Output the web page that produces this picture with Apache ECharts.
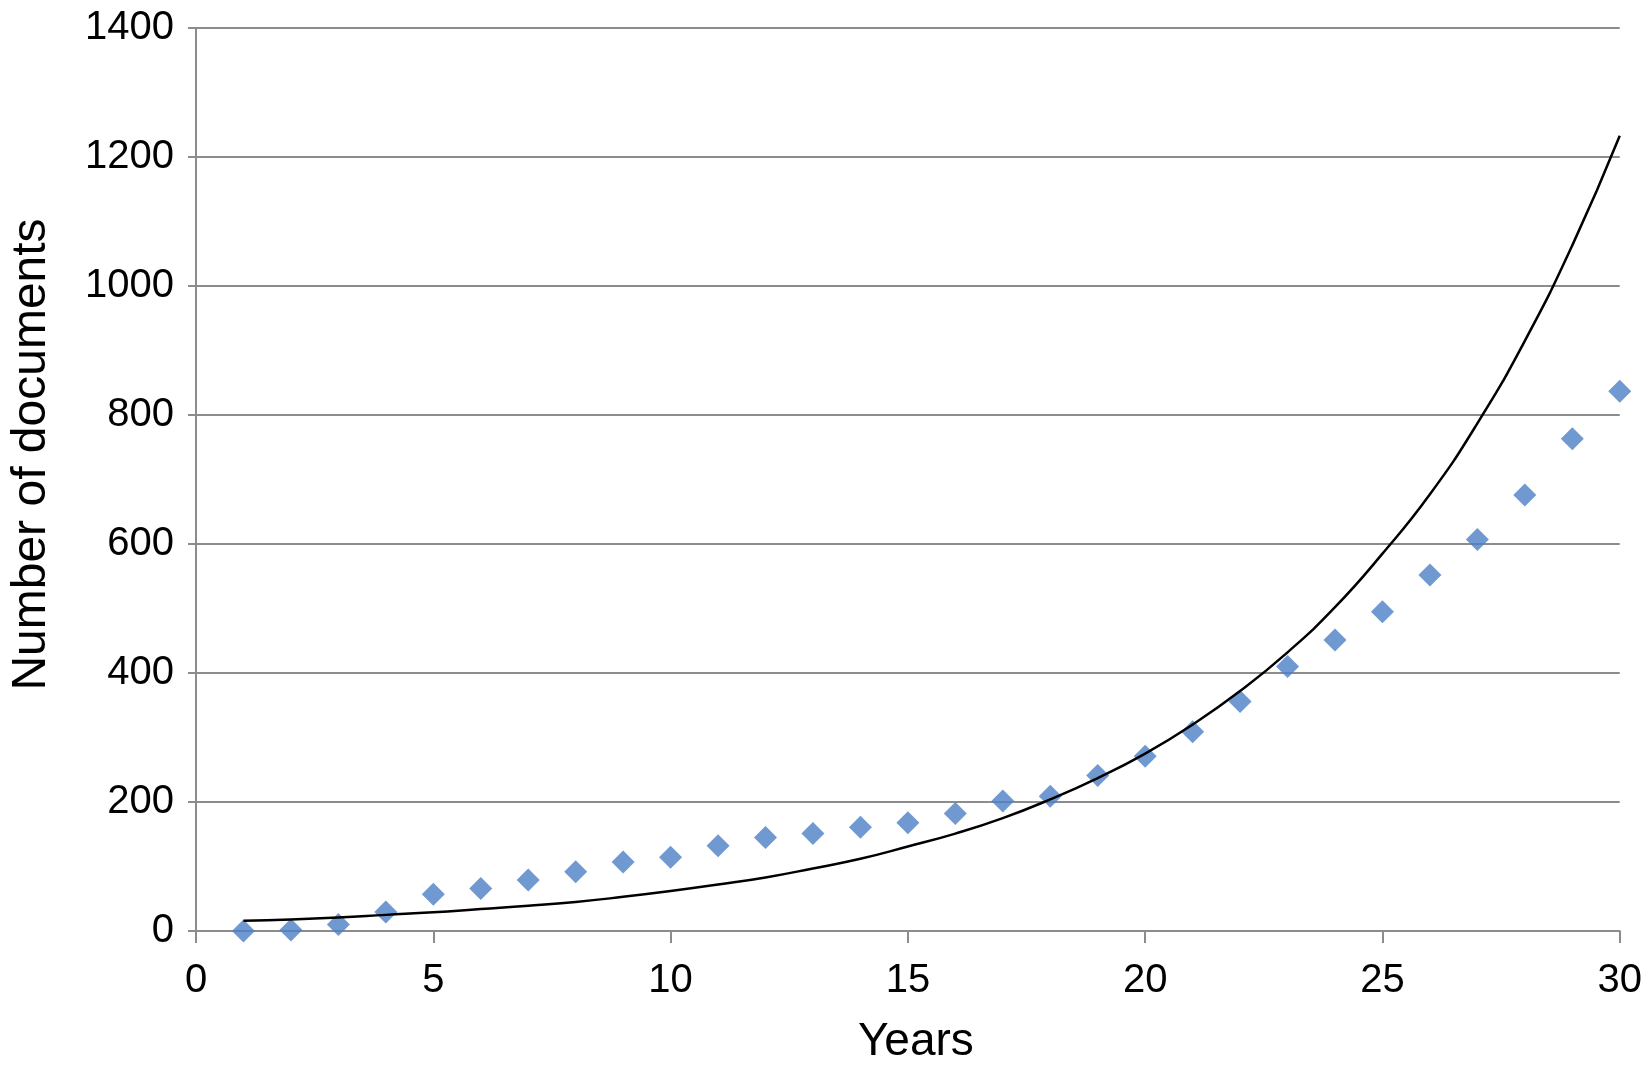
<!DOCTYPE html>
<html>
<head>
<meta charset="utf-8">
<script src="https://cdn.jsdelivr.net/npm/echarts@6/dist/echarts.min.js"></script>
<style>
html,body{margin:0;padding:0;background:#fff;}
#chart{width:1645px;height:1074px;}
</style>
</head>
<body>
<div id="chart"></div>
<script>
var years = [1,2,3,4,5,6,7,8,9,10,11,12,13,14,15,16,17,18,19,20,21,22,23,24,25,26,27,28,29,30];
var documents = [0,1.5,10,29.5,57,66,79,92,107,114.5,132,145,151,161,168,182,201.5,209,241,271,309,356,410,451,495,552,607,676,763,837];
var trend = [16,18,21,25,29,34,39,45,53,62,72,83,97,112,131,151,175,204,237,275,320,372,432,502,585,677,787,915,1063,1233];
var xTicks = [0,5,10,15,20,25,30];
var yTicks = [0,200,400,600,800,1000,1200,1400];

var chart = echarts.init(document.getElementById('chart'));
var font = 'Liberation Sans, Arial, Helvetica, sans-serif';
chart.setOption({
  animation: false,
  backgroundColor: '#ffffff',
  grid: {left: 184, right: 17, top: 28, bottom: 143},
  xAxis: {
    type: 'value',
    min: xTicks[0], max: xTicks[xTicks.length-1], interval: 5,
    name: 'Years',
    nameLocation: 'middle',
    nameGap: 88,
    nameTextStyle: {fontFamily: font, fontSize: 46, color: '#000', padding: [0,0,0,16]},
    axisLine: {lineStyle: {color: '#8c8c8c', width: 2}},
    axisTick: {show: true, length: 12, lineStyle: {color: '#8c8c8c', width: 2}},
    axisLabel: {fontFamily: font, fontSize: 40, color: '#000', margin: 30,
      formatter: function(v){ return String(v); }},
    splitLine: {show: false}
  },
  yAxis: {
    type: 'value',
    min: yTicks[0], max: yTicks[yTicks.length-1], interval: 200,
    name: 'Number of documents',
    nameLocation: 'middle',
    nameGap: 140,
    nameRotate: 90,
    nameTextStyle: {fontFamily: font, fontSize: 48, color: '#000', padding: [0,0,0,50]},
    axisLine: {show: true, lineStyle: {color: '#8c8c8c', width: 2}},
    axisTick: {show: true, length: 8, lineStyle: {color: '#8c8c8c', width: 2}},
    axisLabel: {fontFamily: font, fontSize: 40, color: '#000', margin: 22,
      formatter: function(v){ return String(v); }},
    splitLine: {show: true, lineStyle: {color: '#8c8c8c', width: 2}}
  },
  series: [
    {
      type: 'line',
      data: years.map(function(y,i){return [y, trend[i]];}),
      smooth: true,
      showSymbol: false,
      symbol: 'none',
      lineStyle: {color: '#000', width: 2.5},
      z: 3
    },
    {
      type: 'scatter',
      data: years.map(function(y,i){return [y, documents[i]];}),
      symbol: 'diamond',
      symbolSize: 23,
      itemStyle: {color: '#4b80c4'},
      z: 2
    }
  ]
});
</script>
</body>
</html>
